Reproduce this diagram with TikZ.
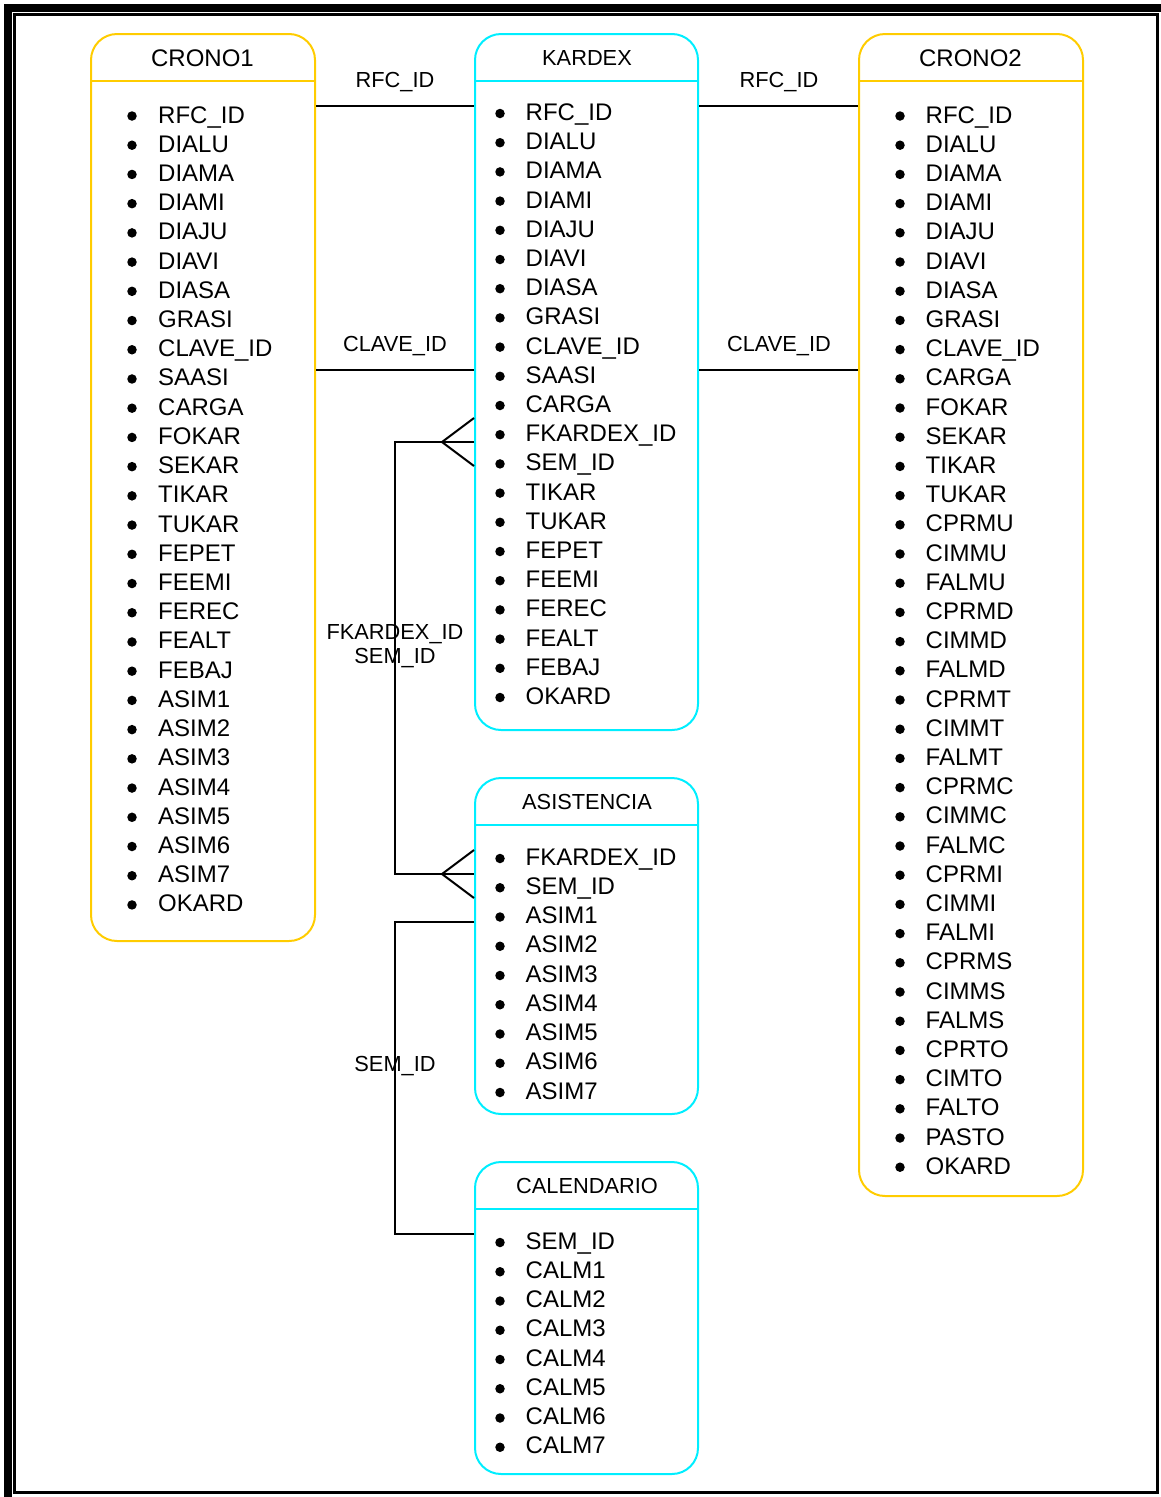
\documentclass[tikz,border=0pt]{standalone}
\usepackage{fontspec}
\setmainfont{Liberation Sans}
\definecolor{cronoyellow}{RGB}{255,204,0}
\definecolor{kardexcyan}{RGB}{0,238,255}
\usetikzlibrary{calc}

\begin{document}
\begin{tikzpicture}[x=1pt, y=-1pt,
  tablebox/.style={draw=#1, line width=2pt, rounded corners=26pt, inner sep=0pt},
  title/.style={anchor=base, inner sep=0pt, font=\fontsize{21.8}{25}\selectfont},
  bigtitle/.style={title, font=\fontsize{24}{28}\selectfont},
  field/.style={anchor=base west, inner sep=0pt, font=\fontsize{24}{28}\selectfont},
  dot/.style={circle, fill=black, inner sep=0pt, minimum size=9.5pt},
  link/.style={line width=2pt, black},
  linklabel/.style={inner sep=0pt, align=center, font=\fontsize{21.8}{24}\selectfont}]
  \useasboundingbox (0,0) rectangle (1161,1497);

  % Frame
  \fill (4,4) rectangle (1161,12);
  \fill (4,4) rectangle (12,1497);
  \draw[line width=2.5pt] (14.5,14.5) rectangle (1157.5,1492.5);

  % CRONO1
  \node[tablebox=cronoyellow, minimum width=224pt, minimum height=907pt] (crono1) at (203,487.5) {};
  \draw[cronoyellow, line width=2pt] ($(crono1.north west)+(0,48)$) -- ($(crono1.north east)+(0,48)$);
  \node[bigtitle] (crono1-title) at (202.5,66.5) {CRONO1};
  \foreach \f [count=\i from 0] in {RFC\_ID, DIALU, DIAMA, DIAMI, DIAJU, DIAVI, DIASA, GRASI, CLAVE\_ID, SAASI, CARGA, FOKAR, SEKAR, TIKAR, TUKAR, FEPET, FEEMI, FEREC, FEALT, FEBAJ, ASIM1, ASIM2, ASIM3, ASIM4, ASIM5, ASIM6, ASIM7, OKARD} {
    \node[dot] (crono1-b\i) at (132,116+\i*29.22) {};
    \node[field] (crono1-f\i) at (158,123+\i*29.22) {\f};
  }

  % KARDEX
  \node[tablebox=kardexcyan, minimum width=223pt, minimum height=696pt] (kardex) at (586.5,382) {};
  \draw[kardexcyan, line width=2pt] ($(kardex.north west)+(0,48)$) -- ($(kardex.north east)+(0,48)$);
  \node[title] (kardex-title) at (587,65) {KARDEX};
  \foreach \f [count=\i from 0] in {RFC\_ID, DIALU, DIAMA, DIAMI, DIAJU, DIAVI, DIASA, GRASI, CLAVE\_ID, SAASI, CARGA, FKARDEX\_ID, SEM\_ID, TIKAR, TUKAR, FEPET, FEEMI, FEREC, FEALT, FEBAJ, OKARD} {
    \node[dot] (kardex-b\i) at (500,113.5+\i*29.2) {};
    \node[field] (kardex-f\i) at (525.5,120.5+\i*29.2) {\f};
  }

  % CRONO2
  \node[tablebox=cronoyellow, minimum width=224pt, minimum height=1162pt] (crono2) at (971,615) {};
  \draw[cronoyellow, line width=2pt] ($(crono2.north west)+(0,48)$) -- ($(crono2.north east)+(0,48)$);
  \node[bigtitle] (crono2-title) at (970.5,66.5) {CRONO2};
  \foreach \f [count=\i from 0] in {RFC\_ID, DIALU, DIAMA, DIAMI, DIAJU, DIAVI, DIASA, GRASI, CLAVE\_ID, CARGA, FOKAR, SEKAR, TIKAR, TUKAR, CPRMU, CIMMU, FALMU, CPRMD, CIMMD, FALMD, CPRMT, CIMMT, FALMT, CPRMC, CIMMC, FALMC, CPRMI, CIMMI, FALMI, CPRMS, CIMMS, FALMS, CPRTO, CIMTO, FALTO, PASTO, OKARD} {
    \node[dot] (crono2-b\i) at (900,116+\i*29.2) {};
    \node[field] (crono2-f\i) at (925.5,123+\i*29.2) {\f};
  }

  % ASISTENCIA
  \node[tablebox=kardexcyan, minimum width=223pt, minimum height=336pt] (asistencia) at (586.5,946) {};
  \draw[kardexcyan, line width=2pt] ($(asistencia.north west)+(0,48)$) -- ($(asistencia.north east)+(0,48)$);
  \node[title] (asistencia-title) at (587,809) {ASISTENCIA};
  \foreach \f [count=\i from 0] in {FKARDEX\_ID, SEM\_ID, ASIM1, ASIM2, ASIM3, ASIM4, ASIM5, ASIM6, ASIM7} {
    \node[dot] (asistencia-b\i) at (500,858.5+\i*29.25) {};
    \node[field] (asistencia-f\i) at (525.5,865+\i*29.25) {\f};
  }

  % CALENDARIO
  \node[tablebox=kardexcyan, minimum width=223pt, minimum height=312pt] (calendario) at (586.5,1318) {};
  \draw[kardexcyan, line width=2pt] ($(calendario.north west)+(0,48)$) -- ($(calendario.north east)+(0,48)$);
  \node[title] (calendario-title) at (587,1193) {CALENDARIO};
  \foreach \f [count=\i from 0] in {SEM\_ID, CALM1, CALM2, CALM3, CALM4, CALM5, CALM6, CALM7} {
    \node[dot] (calendario-b\i) at (500,1242.5+\i*29.25) {};
    \node[field] (calendario-f\i) at (525.5,1249+\i*29.25) {\f};
  }

  % RFC_ID and CLAVE_ID links
  \coordinate (rfc) at (0,106);
  \coordinate (clave) at (0,370);
  \draw[link] (crono1.east |- rfc) -- (kardex.west |- rfc);
  \draw[link] (kardex.east |- rfc) -- (crono2.west |- rfc);
  \draw[link] (crono1.east |- clave) -- (kardex.west |- clave);
  \draw[link] (kardex.east |- clave) -- (crono2.west |- clave);
  \node[linklabel, anchor=base] (rfc-l1) at (395,87.5) {RFC\_ID};
  \node[linklabel, anchor=base] (rfc-l2) at (779,87.5) {RFC\_ID};
  \node[linklabel, anchor=base] (clave-l1) at (395,351.5) {CLAVE\_ID};
  \node[linklabel, anchor=base] (clave-l2) at (779,351.5) {CLAVE\_ID};

  % KARDEX -- ASISTENCIA (crow's feet)
  \coordinate (fk-top) at (395,442);
  \coordinate (fk-bot) at (395,874);
  \draw[link] (kardex.west |- fk-top) -- (fk-top) -- (fk-bot) -- (asistencia.west |- fk-bot);
  \foreach \n/\c in {kardex/fk-top, asistencia/fk-bot}
    \draw[link] ($(\n.west |- \c)+(0,-24)$) -- ($(\n.west |- \c)+(-32,0)$) -- ($(\n.west |- \c)+(0,24)$);
  \node[linklabel] (fk-label) at (395,646) {FKARDEX\_ID\\SEM\_ID};

  % ASISTENCIA -- CALENDARIO
  \coordinate (sem-top) at (395,922);
  \coordinate (sem-bot) at (395,1234);
  \draw[link] (asistencia.west |- sem-top) -- (sem-top) -- (sem-bot) -- (calendario.west |- sem-bot);
  \node[linklabel, anchor=base] (sem-label) at (395,1071.5) {SEM\_ID};
\end{tikzpicture}
\end{document}
